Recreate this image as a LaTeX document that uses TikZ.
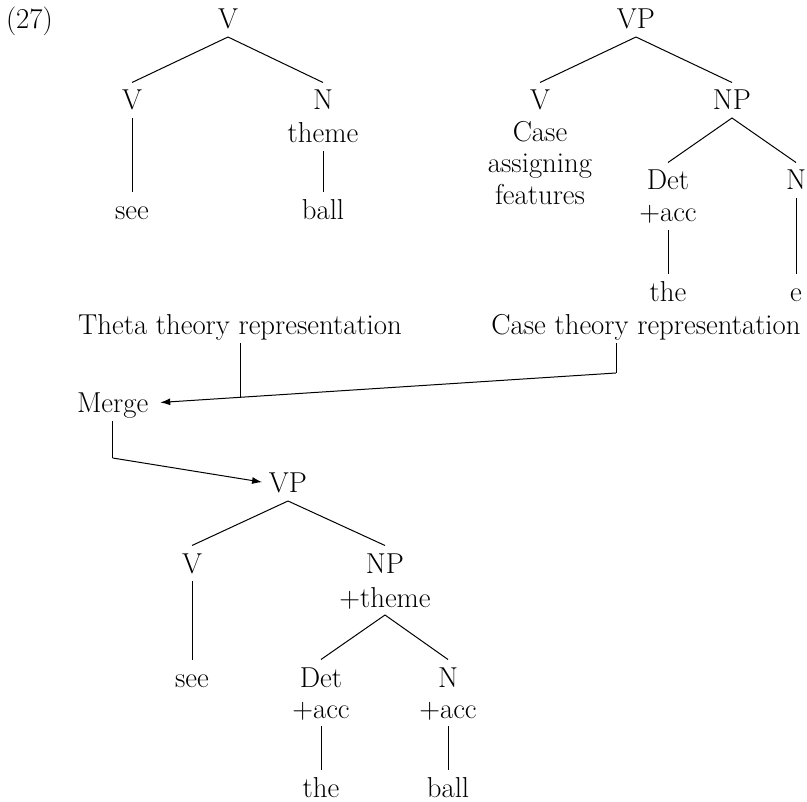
\documentclass[tikz,border=0pt]{standalone}
\usetikzlibrary{arrows.meta}
\tikzset{
  lbl/.style={anchor=base, inner sep=0pt, outer sep=0pt, text height=27.5pt, text depth=8pt,
              font=\fontsize{28.8}{34}\selectfont},
  edge/.style={line width=1pt},
  arr/.style={line width=1pt, -{Latex[length=10pt,width=7pt]}}
}
\begin{document}
\begin{tikzpicture}[x=1pt,y=-1pt]
\useasboundingbox (0,0) rectangle (807,802);
% example number
\node[lbl, anchor=base west] (num) at (6,29) {(27)};
% tree 1: theta representation
\node[lbl] (aV)    at (228,29)  {V};
\node[lbl] (aVl)   at (132,110) {V};
\node[lbl] (aN)    at (323,110) {N};
\node[lbl] (athm)  at (323,143) {theme};
\node[lbl] (asee)  at (132,220) {see};
\node[lbl] (aball) at (323,220) {ball};
\draw[edge] (aV.south) -- (aVl.north);
\draw[edge] (aV.south) -- (aN.north);
\draw[edge] (aVl.south) -- (asee.north);
\draw[edge] (athm.south) -- (aball.north);
% tree 2: case representation
\node[lbl] (bVP)   at (636,29)  {VP};
\node[lbl] (bV)    at (540,110) {V};
\node[lbl] (bc1)   at (540,142) {Case};
\node[lbl] (bc2)   at (540,173) {assigning};
\node[lbl] (bc3)   at (540,205) {features};
\node[lbl] (bNP)   at (732,110) {NP};
\node[lbl] (bDet)  at (668,190) {Det};
\node[lbl] (bacc)  at (668,222) {+acc};
\node[lbl] (bthe)  at (668,302) {the};
\node[lbl] (bN)    at (796,190) {N};
\node[lbl] (be)    at (796,302) {e};
\draw[edge] (bVP.south) -- (bV.north);
\draw[edge] (bVP.south) -- (bNP.north);
\draw[edge] (bNP.south) -- (bDet.north);
\draw[edge] (bNP.south) -- (bN.north);
\draw[edge] (bacc.south) -- (bthe.north);
\draw[edge] (bN.south) -- (be.north);
% labels and merge
\node[lbl] (theta) at (240,335) {Theta theory representation};
\node[lbl] (casel) at (646,335) {Case theory representation};
\node[lbl, anchor=base west] (merge) at (77,413) {Merge};
\coordinate (c1) at (616,373);
\draw[edge] ([xshift=-30pt]casel.south) -- (c1);
\draw[arr, shorten >=12pt] (c1) -- coordinate[pos=0.837] (j) (merge.east);
\draw[edge] (theta.south) -- (theta.south |- j);
\coordinate (m2) at ([yshift=-37pt]merge.south);
\draw[edge] (merge.south) -- (m2);
% tree 3: merged
\node[lbl] (cVP)   at (288,493) {VP};
\draw[arr, shorten >=7pt] (m2) -- (cVP.west);
\node[lbl] (cV)    at (192,573) {V};
\node[lbl] (csee)  at (192,687) {see};
\node[lbl] (cNP)   at (385,573) {NP};
\node[lbl] (cthm)  at (385,607) {+theme};
\node[lbl] (cDet)  at (321,687) {Det};
\node[lbl] (cacc1) at (321,718) {+acc};
\node[lbl] (cthe)  at (321,797) {the};
\node[lbl] (cN)    at (448,687) {N};
\node[lbl] (cacc2) at (448,718) {+acc};
\node[lbl] (cball) at (448,797) {ball};
\draw[edge] (cVP.south) -- (cV.north);
\draw[edge] (cVP.south) -- (cNP.north);
\draw[edge] (cV.south) -- (csee.north);
\draw[edge] (cthm.south) -- (cDet.north);
\draw[edge] (cthm.south) -- (cN.north);
\draw[edge] (cacc1.south) -- (cthe.north);
\draw[edge] (cacc2.south) -- (cball.north);
\end{tikzpicture}
\end{document}
